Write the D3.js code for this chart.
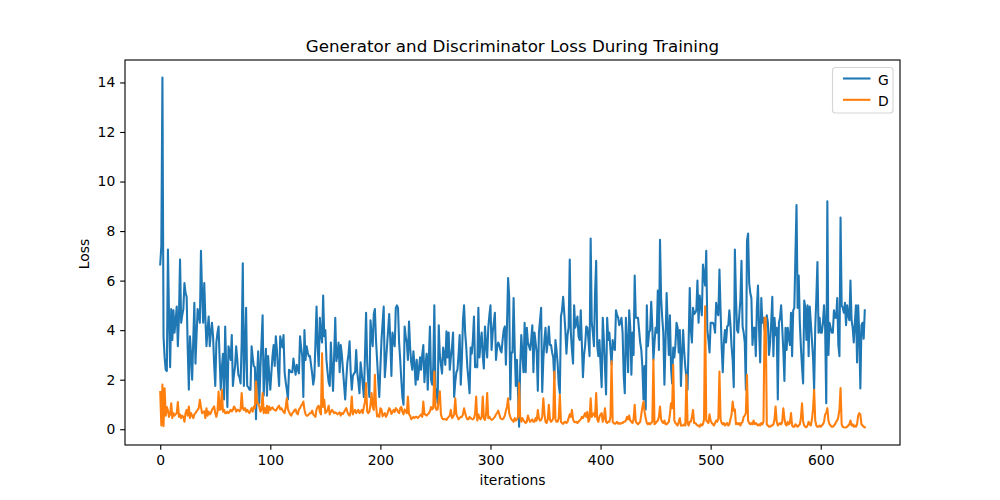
<!DOCTYPE html>
<html><head><meta charset="utf-8">
<script src="https://cdn.jsdelivr.net/npm/d3@7"></script>
<style>body{margin:0;background:#fff}svg{display:block}text{font-family:"DejaVu Sans",sans-serif;fill:#000}</style>
</head><body><svg id="c" width="1000" height="500"></svg>
<script>
const title = "Generator and Discriminator Loss During Training";
const xLabel = "iterations";
const yLabel = "Loss";
const seriesNames = ["G", "D"];
const xTicks = [0, 100, 200, 300, 400, 500, 600];
const yTicks = [0, 2, 4, 6, 8, 10, 12, 14];

const G = [
6.65,7.4,14.2,3.75,2.9,2.4,2.35,7.25,4.6,2.5,4.85,3.6,4.8,3.9,4.4,4.95,3.35,4.5,6.85,4.3,
4.6,4.85,5.9,5.5,5.35,3.2,1.6,3.75,3.0,2.0,3.6,5.1,2.65,3.8,4.85,4.6,4.3,7.2,5.5,4.3,
5.9,4.5,3.35,4.0,4.55,3.35,3.9,4.3,3.75,2.6,1.75,3.5,3.9,4.15,2.8,1.6,2.5,3.05,1.2,4.15,
2.4,0.9,3.35,3.1,2.8,3.8,1.75,2.2,2.55,3.35,2.8,2.2,2.1,1.85,3.5,6.7,1.75,3.2,4.9,1.75,
1.7,1.6,1.6,3.35,2.9,2.55,2.5,0.4,2.2,3.15,1.05,2.45,3.5,4.6,1.35,2.4,3.25,1.35,2.95,2.2,
1.6,2.3,2.95,3.4,2.55,3.75,3.2,2.4,1.75,3.75,3.5,3.3,3.8,2.3,1.9,1.6,1.2,2.4,2.35,2.3,
2.3,2.85,2.5,2.2,2.6,2.4,2.25,3.75,3.3,2.95,1.3,4.0,2.8,3.35,3.1,2.95,2.95,2.6,2.25,1.8,
2.1,3.5,4.95,3.3,2.55,4.5,3.8,3.5,5.4,3.75,4.0,2.8,2.3,1.9,1.75,3.5,2.5,1.55,3.0,4.5,
2.75,3.0,3.5,2.3,3.4,3.0,2.4,1.8,1.2,2.0,2.7,3.0,3.55,2.3,1.6,2.15,2.25,2.3,3.2,2.3,
1.9,1.45,2.7,2.3,1.8,1.3,3.0,4.7,2.7,1.9,1.3,4.4,3.8,3.35,4.65,4.85,3.6,2.8,2.0,1.3,
2.5,3.6,4.3,4.95,2.1,2.7,3.35,4.0,4.65,3.6,2.15,3.9,3.6,3.35,4.9,5.0,4.9,3.5,2.8,2.0,
1.3,0.99,4.15,3.75,3.5,2.8,4.35,3.3,2.7,2.4,3.15,2.6,1.8,2.8,2.0,2.4,2.9,2.4,3.0,3.4,
1.9,2.6,3.05,1.6,2.9,4.15,2.0,1.8,2.5,5.0,1.7,1.5,1.05,4.2,3.0,2.6,2.25,3.3,3.0,2.6,
3.95,2.9,3.9,2.4,2.9,3.3,3.9,1.3,1.9,2.3,2.4,3.0,3.8,1.8,2.8,4.4,5.0,3.9,3.3,2.5,
2.0,1.45,3.3,3.05,3.6,4.55,2.5,2.6,2.5,4.9,2.9,3.5,3.9,2.95,2.45,4.15,3.4,2.9,4.1,4.6,
5.0,3.2,3.9,4.3,4.7,2.8,3.3,3.5,3.4,3.2,3.1,3.6,4.0,4.15,2.6,4.2,6.1,5.35,1.2,3.1,
3.1,5.3,3.3,1.75,2.8,1.5,0.1,2.55,3.8,3.0,2.3,4.3,2.3,4.1,3.5,3.35,3.2,3.6,4.2,2.3,
3.9,3.5,3.1,1.55,3.9,4.4,4.9,1.5,2.8,3.6,4.1,3.1,3.5,4.15,3.4,3.4,3.1,2.9,2.0,3.6,
3.2,2.65,1.8,1.45,4.55,4.8,5.35,4.7,4.0,3.05,3.8,4.1,6.85,3.9,3.2,2.65,5.0,4.1,4.3,4.55,
3.75,3.6,4.8,3.45,2.1,3.0,3.4,4.15,4.1,3.6,2.95,7.7,4.3,3.9,3.35,5.5,6.8,3.35,2.95,3.6,
2.6,1.7,4.5,3.6,2.5,1.4,4.5,3.6,3.9,3.2,2.6,3.6,3.3,3.2,4.8,4.6,4.5,4.2,4.3,4.5,
3.9,2.2,1.45,4.5,3.5,2.3,4.8,4.1,2.2,3.9,3.0,6.2,4.5,4.5,4.5,4.0,3.5,3.2,2.5,1.2,
2.55,0.8,5.0,3.35,3.9,4.0,5.15,4.15,2.8,3.5,4.1,3.9,5.6,3.2,7.65,5.3,4.5,3.9,1.8,3.5,
5.5,4.2,3.0,4.6,2.5,1.85,3.3,2.9,3.4,4.3,4.1,3.1,4.0,1.75,3.0,4.0,3.1,2.5,2.1,1.6,
3.5,5.7,4.0,3.5,4.9,4.65,4.7,4.8,6.0,4.3,5.4,5.0,4.6,6.65,6.2,5.8,7.2,4.0,3.6,3.1,
4.3,4.3,4.3,4.2,3.9,5.1,4.7,4.6,6.45,4.8,3.3,2.3,3.5,4.0,3.5,4.15,4.2,4.8,4.2,3.35,
2.8,1.7,7.25,5.3,4.0,3.9,4.6,5.2,6.8,4.15,3.9,3.5,1.6,7.6,7.9,5.9,5.5,5.3,3.4,4.1,
4.1,2.95,4.9,5.8,4.0,2.7,5.3,4.3,4.5,4.0,4.2,4.6,4.3,3.0,3.5,4.3,5.35,2.95,4.5,3.8,
4.1,1.2,4.3,4.5,5.0,4.1,3.2,1.95,4.1,3.2,4.1,3.7,3.4,4.7,2.95,4.8,4.9,7.0,9.05,4.9,
6.2,4.3,3.3,2.5,1.85,5.2,4.9,3.6,5.0,2.95,4.95,4.3,3.6,2.9,1.6,4.1,5.3,6.75,3.9,4.5,
3.9,3.9,4.3,5.0,4.1,1.05,9.2,3.0,4.3,4.1,3.9,3.9,4.8,4.5,4.5,5.3,3.4,2.95,8.55,5.0,
4.9,4.7,5.1,4.2,5.0,4.6,4.4,6.0,4.4,4.1,3.5,4.3,5.0,2.7,5.0,3.8,1.65,4.2,4.3,3.65,
4.8];

const D = [
1.5,0.15,1.8,0.12,1.65,0.55,0.9,0.75,0.5,0.6,1.05,0.45,0.65,0.55,0.6,0.65,1.1,0.5,0.6,0.45,
0.55,0.5,0.3,0.65,0.78,0.55,0.92,0.45,0.65,0.55,0.45,0.6,0.65,0.72,0.78,0.85,1.19,0.9,0.65,0.7,
0.72,0.45,0.85,0.55,0.71,0.6,0.65,0.78,0.85,0.92,0.65,0.5,0.7,1.52,0.78,0.8,1.6,0.71,0.78,0.65,
0.65,0.71,0.65,0.71,0.78,0.72,0.78,0.92,0.85,0.71,0.78,0.78,0.72,0.78,1.46,0.85,0.78,0.85,0.71,0.78,
0.71,0.65,0.75,0.85,0.71,0.92,0.85,1.93,1.05,1.05,0.92,0.71,0.78,1.46,0.65,0.85,0.65,0.95,0.65,0.92,
0.78,0.85,0.88,0.8,0.78,0.75,0.82,0.9,0.95,0.8,0.85,0.78,0.7,0.65,0.9,1.25,0.8,0.7,0.6,0.55,
0.65,0.7,0.78,0.8,0.65,0.6,0.8,0.85,0.95,1.0,1.12,0.8,0.6,0.55,0.55,0.6,0.65,0.65,0.75,0.6,
0.55,0.5,0.8,0.9,0.95,0.7,0.6,3.07,0.9,1.19,0.65,0.7,0.78,0.95,0.6,0.7,0.78,0.72,0.65,0.68,
0.65,0.6,0.65,0.68,0.55,0.65,0.62,0.7,0.78,0.85,0.7,0.6,0.55,0.7,1.32,0.6,0.72,0.78,0.65,0.72,
0.78,0.65,0.7,0.78,0.65,0.9,1.1,1.86,0.72,0.65,0.7,1.0,1.46,0.9,0.78,2.2,1.0,0.52,0.58,0.5,
0.85,0.8,0.52,0.6,0.65,0.5,0.58,0.72,0.85,0.78,0.62,0.7,0.78,0.7,0.85,0.8,0.7,0.65,0.85,0.9,
0.7,0.6,0.8,0.72,0.65,1.32,0.6,0.55,0.4,0.45,0.5,0.45,0.5,0.5,0.45,0.5,0.55,0.6,0.5,1.12,
0.6,0.6,0.55,0.6,0.65,0.72,0.9,0.8,0.85,2.33,0.9,0.78,0.8,1.2,1.53,0.6,0.45,0.4,0.42,0.4,
0.38,0.45,0.5,0.55,0.78,0.45,0.5,0.6,1.25,0.6,0.5,0.4,0.45,0.5,0.5,0.6,0.85,0.65,0.5,0.4,
0.4,0.5,0.45,0.42,0.4,0.45,0.6,1.32,0.35,0.6,0.45,0.4,0.5,1.32,0.45,0.38,0.6,1.46,0.45,0.5,
0.42,0.38,0.4,0.45,0.5,0.6,0.65,0.75,0.6,0.45,0.42,0.4,0.45,0.55,0.75,0.9,1.25,0.65,0.5,0.4,
0.35,0.3,0.45,0.35,0.4,0.5,1.86,0.5,0.3,0.45,0.35,0.3,0.25,0.3,0.55,0.4,0.3,0.35,0.4,0.3,
0.3,0.45,0.35,0.78,0.45,0.35,0.38,0.5,1.25,0.65,0.3,0.25,0.4,0.99,0.4,0.3,0.35,0.45,2.33,0.4,
0.3,0.3,0.45,1.39,0.3,0.25,0.22,0.28,0.3,0.25,0.3,0.45,0.6,0.5,0.78,0.4,0.3,0.28,0.3,0.25,
0.3,0.35,0.4,0.5,0.45,0.55,0.65,0.5,0.7,0.3,0.4,1.25,0.5,0.6,0.65,0.5,1.46,0.4,0.3,0.5,
0.6,0.65,0.3,0.45,0.85,0.3,0.25,0.3,0.3,0.5,2.74,0.3,0.25,0.22,0.25,0.3,0.22,0.25,0.22,0.25,
0.25,0.3,0.3,0.35,0.5,0.4,0.55,0.35,0.3,0.25,0.4,0.99,0.3,0.25,0.2,0.25,0.3,0.6,0.9,1.12,
0.7,0.45,0.25,0.2,0.25,0.2,0.25,0.3,2.8,0.2,0.25,0.3,0.35,0.5,0.92,0.4,0.3,0.25,0.35,0.2,
0.2,0.25,0.3,0.6,1.05,0.85,2.6,0.35,0.25,0.2,0.15,0.3,0.45,0.15,0.15,0.15,0.2,0.15,2.2,0.25,
0.15,0.3,0.3,0.5,0.78,0.25,0.25,0.2,0.15,0.15,0.1,0.2,0.15,0.2,0.4,4.96,0.35,0.3,0.25,0.6,
0.35,0.25,0.2,0.15,0.25,0.35,0.3,0.45,2.33,0.4,0.25,0.2,0.25,0.15,0.2,0.25,0.15,0.2,0.4,0.6,
1.12,0.75,0.8,0.2,0.25,0.2,0.25,0.15,0.25,0.3,0.5,0.55,0.65,2.2,0.35,0.25,0.2,0.25,0.2,0.35,
0.2,0.25,0.2,0.15,0.2,0.15,0.25,0.2,0.3,4.5,4.5,0.2,0.15,0.1,0.1,0.15,0.15,0.2,0.4,0.92,
0.3,0.15,0.2,0.25,0.2,0.3,0.85,0.45,0.2,0.15,0.3,0.2,0.25,0.65,0.15,0.1,0.1,0.2,0.15,0.1,
0.15,0.2,0.45,1.05,0.3,0.15,0.1,0.08,0.15,0.3,0.2,0.15,0.4,0.8,1.59,0.35,0.15,0.1,0.1,0.15,
0.1,0.15,0.2,0.3,0.6,0.65,0.85,0.35,0.2,0.15,0.1,0.1,0.15,0.2,0.3,0.35,0.5,0.8,1.66,0.2,
0.1,0.08,0.07,0.08,0.1,0.15,0.2,0.35,0.15,0.2,0.1,0.15,0.1,0.2,0.55,0.65,0.6,0.2,0.15,0.1,
0.08];

const colors = ["#1f77b4", "#ff7f0e"];
const series = [G, D];

const svg = d3.select("#c");
const L = 125, R = 900, T = 60, B = 445;
const n = Math.max(G.length, D.length) - 1;
const allV = G.concat(D);
const ymin = d3.min(allV), ymax = d3.max(allV);
const xpad = n * 0.05, ypad = (ymax - ymin) * 0.05;
const x = d3.scaleLinear().domain([-xpad, n + xpad]).range([L, R]);
const y = d3.scaleLinear().domain([ymin - ypad, ymax + ypad]).range([B, T]);

const clip = svg.append("defs").append("clipPath").attr("id", "cp");
clip.append("rect").attr("x", L).attr("y", T).attr("width", R - L).attr("height", B - T);

const line = d3.line().x((d, i) => x(i)).y(d => y(d));
const g = svg.append("g").attr("clip-path", "url(#cp)");
series.forEach((s, k) => {
  g.append("path").attr("d", line(s)).attr("fill", "none")
    .attr("stroke", colors[k]).attr("stroke-width", 2.08)
    .attr("stroke-linejoin", "round").attr("stroke-linecap", "square");
});

const fs = 13.9;
const xAxis = d3.axisBottom(x).tickValues(xTicks).tickSize(4.86).tickPadding(4.86).tickFormat(d3.format("d"));
const ya = d3.axisLeft(y).tickValues(yTicks).tickSize(4.86).tickPadding(4.86).tickFormat(d3.format("d"));
const gx = svg.append("g").attr("transform", `translate(0,${B})`).call(xAxis);
const gy = svg.append("g").attr("transform", `translate(${L},0)`).call(ya);
[gx, gy].forEach(a => {
  a.select(".domain").remove();
  a.selectAll(".tick line").attr("stroke", "#000").attr("stroke-width", 1.11);
  a.selectAll(".tick text").attr("font-size", fs).attr("font-family", "DejaVu Sans").attr("fill", "#000");
});

svg.append("rect").attr("x", L).attr("y", T).attr("width", R - L).attr("height", B - T)
  .attr("fill", "none").attr("stroke", "#000").attr("stroke-width", 1.11);

svg.append("text").attr("x", (L + R) / 2).attr("y", 52).attr("text-anchor", "middle")
  .attr("font-size", 16.7).text(title);
svg.append("text").attr("x", (L + R) / 2).attr("y", 485).attr("text-anchor", "middle")
  .attr("font-size", fs).text(xLabel);
svg.append("text").attr("transform", "translate(89,254) rotate(-90)").attr("text-anchor", "middle")
  .attr("font-size", fs).text(yLabel);

const lg = svg.append("g");
lg.append("rect").attr("x", 832.5).attr("y", 67.5).attr("width", 60.5).attr("height", 45.5)
  .attr("rx", 3).attr("fill", "#fff").attr("fill-opacity", 0.8).attr("stroke", "#d5d5d5").attr("stroke-width", 1.1);
seriesNames.forEach((nm, k) => {
  const yy = 78.5 + k * 21.3;
  lg.append("line").attr("x1", 843).attr("x2", 870.5).attr("y1", yy).attr("y2", yy)
    .attr("stroke", colors[k]).attr("stroke-width", 2.08);
  lg.append("text").attr("x", 878).attr("y", yy + 6).attr("font-size", fs).text(nm);
});
</script></body></html>
